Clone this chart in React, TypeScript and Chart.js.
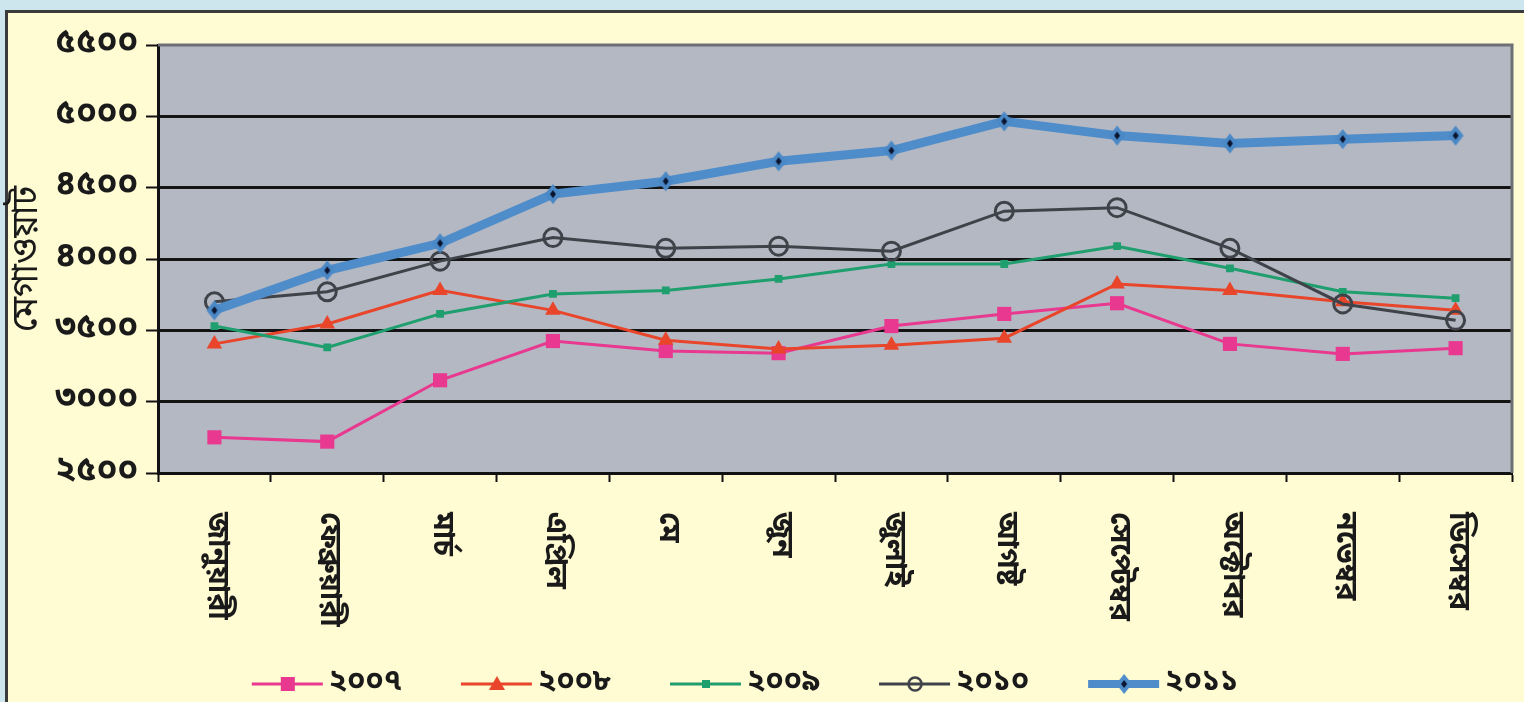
import React, { useEffect, useRef } from "react";
import { Chart, registerables } from "chart.js";

Chart.register(...registerables);

const months = [
  "জানুয়ারী",
  "ফেব্রুয়ারী",
  "মার্চ",
  "এপ্রিল",
  "মে",
  "জুন",
  "জুলাই",
  "আগষ্ট",
  "সেপ্টেম্বর",
  "অক্টোবর",
  "নভেম্বর",
  "ডিসেম্বর",
];
const seriesLabels = ["২০০৭", "২০০৮", "২০০৯", "২০১০", "২০১১"];
const y2007 = [2750, 2720, 3150, 3425, 3355, 3340, 3530, 3615, 3690, 3405, 3335, 3375];
const y2008 = [3405, 3545, 3780, 3640, 3430, 3370, 3395, 3445, 3825, 3780, 3700, 3640];
const y2009 = [3530, 3380, 3615, 3755, 3780, 3860, 3965, 3965, 4090, 3935, 3770, 3725];
const y2010 = [3700, 3770, 3985, 4150, 4075, 4090, 4055, 4335, 4360, 4075, 3685, 3570];
const y2011 = [3640, 3920, 4110, 4455, 4545, 4685, 4760, 4965, 4865, 4810, 4840, 4865];
const yTickValues = [2500, 3000, 3500, 4000, 4500, 5000, 5500];
const yTickLabels = ["২৫০০", "৩০০০", "৩৫০০", "৪০০০", "৪৫০০", "৫০০০", "৫৫০০"];
const yTitle = "মেগাওয়াট";

const FONT = '"Noto Sans Bengali", "Lohit Bengali", "Noto Sans", sans-serif';

const COLORS = ["#e8388f", "#e8452a", "#1f9e6e", "#3f4349", "#4e8cca"];
const KINDS = ["square", "triangle", "smallsquare", "circle", "diamond"];
const LINE_WIDTHS = [3, 3, 3, 3, 9];

function drawMarker(ctx: CanvasRenderingContext2D, kind: string, color: string, cx: number, cy: number) {
  ctx.save();
  if (kind === "square") {
    ctx.fillStyle = color;
    ctx.fillRect(cx - 7, cy - 7, 14, 14);
  } else if (kind === "triangle") {
    ctx.fillStyle = color;
    ctx.beginPath();
    ctx.moveTo(cx, cy - 8);
    ctx.lineTo(cx + 8, cy + 6);
    ctx.lineTo(cx - 8, cy + 6);
    ctx.closePath();
    ctx.fill();
  } else if (kind === "smallsquare") {
    ctx.fillStyle = color;
    ctx.fillRect(cx - 4, cy - 4, 8, 8);
  } else if (kind === "circle") {
    ctx.strokeStyle = color;
    ctx.lineWidth = 2.5;
    ctx.beginPath();
    ctx.arc(cx, cy, 6.5, 0, Math.PI * 2);
    ctx.stroke();
  } else if (kind === "diamond") {
    ctx.fillStyle = color;
    ctx.beginPath();
    ctx.moveTo(cx, cy - 10);
    ctx.lineTo(cx + 8, cy);
    ctx.lineTo(cx, cy + 10);
    ctx.lineTo(cx - 8, cy);
    ctx.closePath();
    ctx.fill();
    ctx.fillStyle = "#0b1530";
    ctx.beginPath();
    ctx.moveTo(cx, cy - 4);
    ctx.lineTo(cx + 3, cy);
    ctx.lineTo(cx, cy + 4);
    ctx.lineTo(cx - 3, cy);
    ctx.closePath();
    ctx.fill();
  }
  ctx.restore();
}

// legend symbol: canvas 131 wide, centred on a 111 wide legend box; line sits at its right end
function makeLegendCanvas(i: number) {
  const c = document.createElement("canvas");
  c.width = 131;
  c.height = 30;
  const ctx = c.getContext("2d")!;
  ctx.strokeStyle = COLORS[i];
  ctx.lineWidth = i === 4 ? 8 : 3;
  ctx.beginPath();
  ctx.moveTo(59, 15);
  ctx.lineTo(130, 15);
  ctx.stroke();
  drawMarker(ctx, KINDS[i], COLORS[i], 95, 15);
  return c;
}

function makeDiamondPoint() {
  const c = document.createElement("canvas");
  c.width = 22;
  c.height = 24;
  const ctx = c.getContext("2d")!;
  drawMarker(ctx, "diamond", "#4a88c6", 11, 12);
  return c;
}

const plotDecor = {
  id: "plotDecor",
  afterLayout(chart: any) {
    const lg = chart.legend;
    if (lg) {
      lg.left -= 41;
      lg.right -= 41;
      lg.top += 7;
      lg.bottom += 7;
    }
  },
  beforeDraw(chart: any) {
    const { ctx, chartArea } = chart;
    ctx.save();
    ctx.fillStyle = "#b4b8c3";
    ctx.fillRect(chartArea.left, chartArea.top, chartArea.right - chartArea.left, chartArea.bottom - chartArea.top);
    ctx.restore();
  },
  beforeDatasetsDraw(chart: any) {
    const { ctx, chartArea } = chart;
    ctx.save();
    ctx.strokeStyle = "#6c6f76";
    ctx.lineWidth = 3;
    ctx.beginPath();
    ctx.moveTo(chartArea.left, chartArea.top);
    ctx.lineTo(chartArea.right, chartArea.top);
    ctx.lineTo(chartArea.right, chartArea.bottom);
    ctx.stroke();
    ctx.restore();
  },
};

const xLabelPlugin = {
  id: "xLabels",
  afterDraw(chart: any) {
    const { ctx, chartArea } = chart;
    const x = chart.scales.x;
    ctx.save();
    ctx.font = `bold 30px ${FONT}`;
    ctx.fillStyle = "#1a1a1a";
    ctx.textAlign = "left";
    ctx.textBaseline = "middle";
    x.ticks.forEach((t: any, i: number) => {
      const px = x.getPixelForTick(i);
      ctx.save();
      ctx.translate(px, chartArea.bottom + 39);
      ctx.rotate(Math.PI / 2);
      ctx.fillText(x.getLabelForValue(t.value), 0, 0);
      ctx.restore();
    });
    ctx.restore();
  },
};

export default function App() {
  const ref = useRef<HTMLCanvasElement>(null);

  useEffect(() => {
    if (!ref.current) return;
    const legendImgs = seriesLabels.map((_, i) => makeLegendCanvas(i));
    const diamond = makeDiamondPoint();
    const values = [y2007, y2008, y2009, y2010, y2011];
    const pointStyles: any[] = ["rect", "triangle", "rect", "circle", diamond];
    const radii = [10, 9, 5.5, 9, 10];

    const datasets = seriesLabels.map((label, i) => ({
      label,
      data: values[i],
      borderColor: COLORS[i],
      backgroundColor: i === 3 ? "rgba(0,0,0,0)" : COLORS[i],
      borderWidth: LINE_WIDTHS[i],
      pointStyle: pointStyles[i],
      pointRadius: radii[i],
      pointBorderWidth: i === 3 ? 3 : 0,
      pointBorderColor: COLORS[i],
      pointBackgroundColor: i === 3 ? "rgba(0,0,0,0)" : COLORS[i],
      tension: 0,
      order: 4 - i,
    }));

    const chart = new Chart(ref.current, {
      type: "line",
      data: { labels: months, datasets },
      options: {
        animation: false,
        responsive: false,
        layout: { padding: { left: 8, right: 9, top: 45, bottom: 0 } },
        plugins: {
          tooltip: { enabled: false },
          legend: {
            position: "bottom",
            labels: {
              usePointStyle: true,
              pointStyleWidth: 111,
              boxHeight: 30,
              padding: 10,
              color: "#1a1a1a",
              font: { family: FONT, size: 30, weight: "bold", lineHeight: 1 },
              generateLabels: () =>
                seriesLabels.map((t, i) => ({
                  text: t,
                  fillStyle: COLORS[i],
                  strokeStyle: COLORS[i],
                  lineWidth: 0,
                  pointStyle: legendImgs[i],
                  datasetIndex: i,
                  hidden: false,
                  fontColor: "#1a1a1a",
                })),
            },
          },
        },
        scales: {
          x: {
            type: "category",
            offset: true,
            afterFit: (s: any) => {
              s.height = 179;
            },
            grid: {
              offset: true,
              drawOnChartArea: false,
              drawTicks: true,
              tickLength: 9,
              tickColor: "#111",
              tickWidth: 2,
            },
            border: { display: true, color: "#111", width: 3 },
            ticks: { display: false },
          },
          y: {
            min: 2500,
            max: 5500,
            afterFit: (s: any) => {
              s.width = 150;
            },
            afterBuildTicks: (s: any) => {
              s.ticks = yTickValues.map((v) => ({ value: v }));
            },
            title: {
              display: true,
              text: yTitle,
              color: "#1a1a1a",
              font: { family: FONT, size: 36 },
              padding: { top: 0, bottom: 0 },
            },
            grid: {
              color: (c: any) => (c.tick && c.tick.value === 5500 ? "rgba(0,0,0,0)" : "#141414"),
              lineWidth: 3,
              drawTicks: true,
              tickLength: 12,
              tickColor: "#111",
              tickWidth: 2,
            },
            border: { display: true, color: "#111", width: 3 },
            ticks: {
              padding: 8,
              color: "#1a1a1a",
              font: { family: FONT, size: 34, weight: "bold" },
              callback: (v: any) => yTickLabels[yTickValues.indexOf(Number(v))],
            },
          },
        },
      },
      plugins: [plotDecor, xLabelPlugin],
    } as any);

    return () => chart.destroy();
  }, []);

  return (
    <div style={{ position: "fixed", left: 0, top: 0, width: 1524, height: 702, background: "#cde6ee", overflow: "hidden" }}>
      <div
        style={{
          position: "absolute",
          left: 5,
          top: 10,
          right: 0,
          bottom: 0,
          background: "#fffbd3",
          borderTop: "3px solid #3a3a3a",
          borderLeft: "3px solid #3a3a3a",
        }}
      />
      <canvas ref={ref} width={1524} height={702} style={{ position: "absolute", left: 0, top: 0, display: "block" }} />
    </div>
  );
}
